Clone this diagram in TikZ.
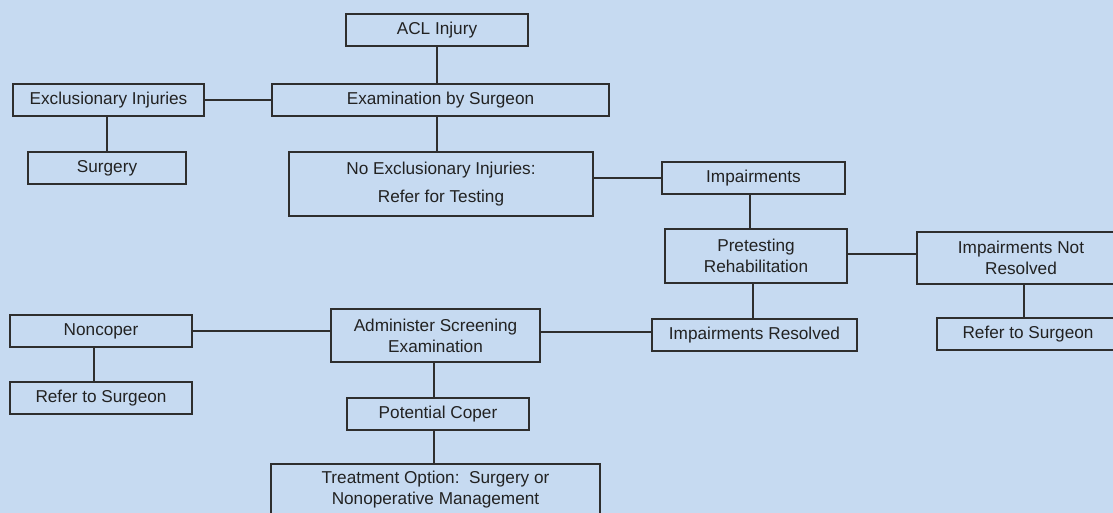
\documentclass[tikz,border=0pt]{standalone}
\usepackage{fontspec}
\setmainfont{Liberation Sans}
\definecolor{bg}{HTML}{C6DAF1}
\definecolor{ln}{HTML}{2E2E2E}
\definecolor{tx}{HTML}{222222}
\begin{document}
\begin{tikzpicture}[x=1pt,y=-1pt,
  box/.style={draw=ln,line width=1.3pt,fill=bg,text=tx,inner sep=0pt,align=center,
    font=\fontsize{17.2}{21}\selectfont},
  conn/.style={draw=ln,line width=1.4pt}]
\useasboundingbox (0,0) rectangle (1113,513);
\fill[bg] (0,0) rectangle (1113,513);
\clip (0,0) rectangle (1113,513);
% nodes
\node[box,minimum width=182pt,minimum height=32pt] (acl) at (437,30) {ACL Injury};
\node[box,minimum width=337pt,minimum height=32pt] (exam) at (440.5,100) {Examination by Surgeon};
\node[box,minimum width=191pt,minimum height=32pt] (excl) at (108.5,100) {Exclusionary Injuries};
\node[box,minimum width=158pt,minimum height=32pt] (surg) at (107,168) {Surgery};
\node[box,minimum width=304pt,minimum height=64pt,font=\fontsize{17.2}{28}\selectfont] (noex) at (441,184) {No Exclusionary Injuries:\\Refer for Testing};
\node[box,minimum width=183pt,minimum height=32pt] (imp) at (753.5,178) {Impairments};
\node[box,minimum width=182pt,minimum height=54pt] (pre) at (756,256) {Pretesting\\Rehabilitation};
\node[box,minimum width=208pt,minimum height=52pt] (inr) at (1021,258) {Impairments Not\\Resolved};
\node[box,minimum width=205pt,minimum height=32pt] (ir) at (754.5,335) {Impairments Resolved};
\node[box,minimum width=182pt,minimum height=32pt] (refr) at (1028,334) {Refer to Surgeon};
\node[box,minimum width=182pt,minimum height=32pt] (nonc) at (101,331) {Noncoper};
\node[box,minimum width=182pt,minimum height=32pt] (refl) at (101,398) {Refer to Surgeon};
\node[box,minimum width=209pt,minimum height=53pt] (ase) at (435.5,335.5) {Administer Screening\\Examination};
\node[box,minimum width=182pt,minimum height=32pt] (pc) at (438,414) {Potential Coper};
\node[box,minimum width=329pt,minimum height=52pt] (treat) at (435.5,490) {Treatment Option:\ \ Surgery or\\Nonoperative Management};
% connectors
\draw[conn] (acl.south) -- (acl.south |- exam.north);
\draw[conn] (acl.south |- exam.south) -- (acl.south |- noex.north);
\draw[conn] (excl.east) -- (exam.west);
\draw[conn] (surg.north) -- (surg.north |- excl.south);
\draw[conn] (imp.west) -- (imp.west -| noex.east);
\draw[conn] ([xshift=-3.5pt]imp.south) -- ([xshift=-3.5pt]imp.south |- pre.north);
\draw[conn] ([yshift=2pt]pre.east) -- ([yshift=2pt]pre.east -| inr.west);
\draw[conn] ([xshift=-3pt]pre.south) -- ([xshift=-3pt]pre.south |- ir.north);
\draw[conn] ([yshift=3pt]ir.west) -- ([yshift=3pt]ir.west -| ase.east);
\draw[conn] (nonc.east) -- (nonc.east -| ase.west);
\draw[conn] ([xshift=-7pt]nonc.south) -- ([xshift=-7pt]nonc.south |- refl.north);
\draw[conn] ([xshift=3pt]inr.south) -- ([xshift=3pt]inr.south |- refr.north);
\draw[conn] ([xshift=-4pt]pc.north) -- ([xshift=-4pt]pc.north |- ase.south);
\draw[conn] ([xshift=-4pt]pc.south) -- ([xshift=-4pt]pc.south |- treat.north);
\end{tikzpicture}
\end{document}
